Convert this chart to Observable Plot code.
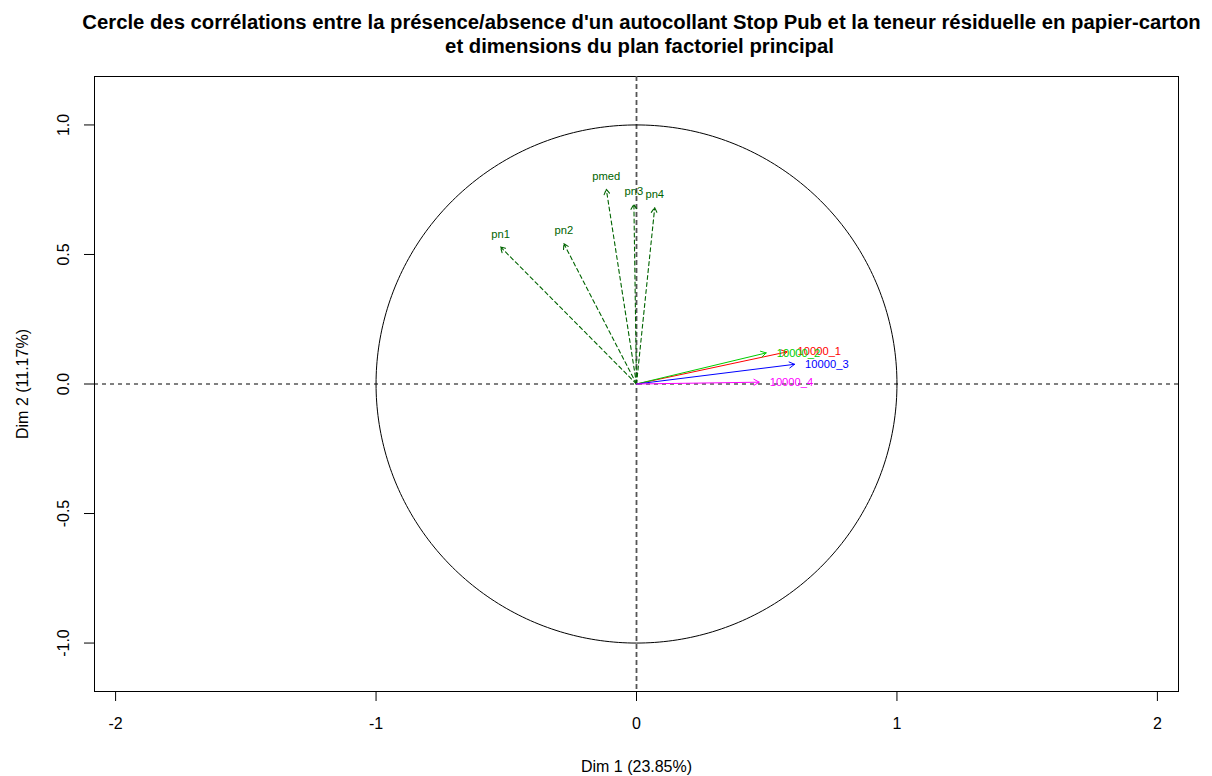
<!DOCTYPE html>
<html>
<head>
<meta charset="utf-8">
<script src="https://cdn.jsdelivr.net/npm/d3@7"></script>
<script src="https://cdn.jsdelivr.net/npm/@observablehq/plot@0.6"></script>
<style>
  html, body { margin: 0; padding: 0; background: #fff; }
</style>
</head>
<body>
<div id="chart"></div>
<script>
// Active variables (dashed dark-green arrows)
const activeVars = ["pn1", "pn2", "pmed", "pn3", "pn4"];
const activeDim1 = [-0.522, -0.279, -0.116, -0.010, 0.070];
const activeDim2 = [0.529, 0.542, 0.752, 0.694, 0.681];

// Supplementary variables (solid coloured arrows)
const supVars = ["10000_1", "10000_2", "10000_3", "10000_4"];
const supDim1 = [0.578, 0.498, 0.607, 0.471];
const supDim2 = [0.124, 0.120, 0.076, 0.007];
const supColors = ["#FF0000", "#00CD00", "#0000FF", "#FF00FF"];

// Axis ticks and titles
const xTicks = [-2, -1, 0, 1, 2];
const yTicks = [-1, -0.5, 0, 0.5, 1];
const xLabel = "Dim 1 (23.85%)";
const yLabel = "Dim 2 (11.17%)";
const titleLines = [
  "Cercle des corrélations entre la présence/absence d'un autocollant Stop Pub et la teneur résiduelle en papier-carton",
  "et dimensions du plan factoriel principal"
];

const active = activeVars.map((name, i) => ({name, x: activeDim1[i], y: activeDim2[i]}));
const sup = supVars.map((name, i) => ({name, x: supDim1[i], y: supDim2[i], color: supColors[i]}));

// Unit correlation circle
const circle = d3.range(0, 361, 1).map(a => ({x: Math.cos(a * Math.PI / 180), y: Math.sin(a * Math.PI / 180)}));

const font = "'Liberation Sans', Arial, Helvetica, sans-serif";
const darkGreen = "#006400";

const chart = Plot.plot({
  width: 1212,
  height: 776,
  marginLeft: 94,
  marginRight: 34,
  marginTop: 76,
  marginBottom: 85,
  style: {fontFamily: font, fontSize: "16px", background: "#fff", color: "#000"},
  x: {domain: [-2.081, 2.081]},
  y: {domain: [-1.187, 1.187]},
  color: {type: "identity"},
  marks: [
    Plot.frame({stroke: "#000", strokeWidth: 1}),
    Plot.axisX({ticks: xTicks, tickSize: 10, tickPadding: 16, tickFormat: d => String(d), label: null, fontSize: 16}),
    Plot.axisY({ticks: yTicks, tickSize: 10, tickFormat: () => "", label: null}),
    Plot.text(yTicks, {
      y: d => d, frameAnchor: "left", dx: -31, rotate: -90,
      text: d => d.toFixed(1), textAnchor: "middle", lineAnchor: "middle", fontSize: 16
    }),
    Plot.ruleY([0], {stroke: "#000", strokeDasharray: "4,4", strokeWidth: 1}),
    Plot.ruleX([0], {stroke: "#555", strokeDasharray: "5,3", strokeWidth: 1.8}),
    Plot.line(circle, {x: "x", y: "y", stroke: "#000", strokeWidth: 1}),
    Plot.arrow(active, {
      x1: () => 0, y1: () => 0, x2: "x", y2: "y",
      stroke: darkGreen, strokeDasharray: "4,3", strokeWidth: 1.1,
      headLength: 8, headAngle: 60, bend: 0
    }),
    Plot.text(active, {
      x: "x", y: "y", text: "name", fill: darkGreen,
      dy: -13, lineAnchor: "middle", fontSize: 11.2
    }),
    Plot.arrow(sup, {
      x1: () => 0, y1: () => 0, x2: "x", y2: "y",
      stroke: "color", strokeWidth: 1, headLength: 9, headAngle: 60, bend: 0
    }),
    Plot.text(sup, {
      x: "x", y: "y", text: "name", fill: "color",
      dx: 10.5, textAnchor: "start", lineAnchor: "middle", fontSize: 11.2
    }),
    Plot.text([xLabel], {frameAnchor: "bottom", dy: 75, lineAnchor: "middle", fontSize: 16}),
    Plot.text([yLabel], {frameAnchor: "left", dx: -72, rotate: -90, textAnchor: "middle", lineAnchor: "middle", fontSize: 16}),
    Plot.text([titleLines[0]], {frameAnchor: "top", dx: 5, dy: -54, lineAnchor: "middle", fontSize: 20.3, fontWeight: "bold"}),
    Plot.text([titleLines[1]], {frameAnchor: "top", dx: 3, dy: -30, lineAnchor: "middle", fontSize: 20.3, fontWeight: "bold"})
  ]
});

document.getElementById("chart").appendChild(chart);
</script>
</body>
</html>
